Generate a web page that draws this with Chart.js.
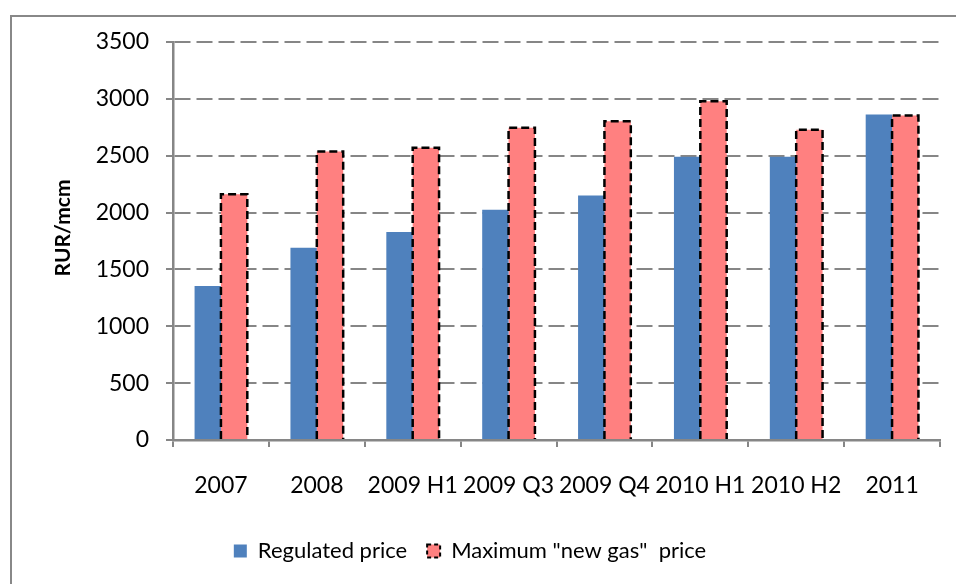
<!DOCTYPE html>
<html>
<head>
<meta charset="utf-8">
<script src="https://cdn.jsdelivr.net/npm/chart.js@4"></script>
<style>
  html, body { margin: 0; padding: 0; background: #fff; overflow: hidden; }
  #frame { position: absolute; left: 10px; top: 15px; width: 980px; height: 620px; border: 2px solid #888; box-sizing: border-box; }
  #wrap { position: absolute; left: 0; top: 0; width: 956px; height: 584px; }
</style>
</head>
<body>
<div id="frame"></div>
<div id="wrap"><canvas id="chart"></canvas></div>
<script>
// Regulated vs maximum "new gas" price, RUR/mcm

var periods   = ['2007', '2008', '2009 H1', '2009 Q3', '2009 Q4', '2010 H1', '2010 H2', '2011'];
var regulated = [1355, 1690, 1830, 2025, 2150, 2490, 2490, 2862];
var newGasMax = [2162, 2537, 2570, 2747, 2803, 2980, 2729, 2853];

var BLUE = '#4F81BD';
var RED  = '#FF8080';
var AXIS = '#868686';
var FONT = 'Lato, "Open Sans", sans-serif';

// bars in Chart.js have no dashed border, so outline the red ones here
var dashedOutline = {
  id: 'dashedOutline',
  afterDatasetsDraw: function(chart) {
    var meta = chart.getDatasetMeta(1);
    var ctx = chart.ctx;
    ctx.save();
    ctx.strokeStyle = '#000';
    ctx.lineWidth = 2.5;
    ctx.setLineDash([8, 4]);
    meta.data.forEach(function(bar) {
      var l = bar.x - bar.width / 2, r = bar.x + bar.width / 2;
      ctx.beginPath();
      ctx.moveTo(l, bar.base);
      ctx.lineTo(l, bar.y);
      ctx.lineTo(r, bar.y);
      ctx.lineTo(r, bar.base);
      ctx.stroke();
    });
    ctx.restore();
  }
};

// axis title, a bit above the centre of the plot like the original
var yTitle = {
  id: 'yTitle',
  afterDraw: function(chart) {
    var ctx = chart.ctx;
    var area = chart.chartArea;
    ctx.save();
    ctx.translate(63, (area.top + area.bottom) / 2 - 13);
    ctx.rotate(-Math.PI / 2);
    ctx.font = 'bold 21px ' + FONT;
    ctx.fillStyle = '#000';
    ctx.textAlign = 'center';
    ctx.textBaseline = 'middle';
    ctx.fillText('RUR/mcm', 0, 0);
    ctx.restore();
  }
};

new Chart(document.getElementById('chart').getContext('2d'), {
  type: 'bar',
  data: {
    labels: periods,
    datasets: [
      { label: 'Regulated price', data: regulated, backgroundColor: BLUE, borderWidth: 0 },
      { label: 'Maximum "new gas"  price', data: newGasMax, backgroundColor: RED, borderWidth: 0 }
    ]
  },
  options: {
    responsive: true,
    maintainAspectRatio: false,
    animation: false,
    datasets: { bar: { categoryPercentage: 0.55, barPercentage: 1.0 } },
    layout: { padding: { top: 42, right: 16, bottom: 12, left: 0 } },
    plugins: {
      tooltip: { enabled: false },
      legend: {
        position: 'bottom',
        labels: {
          color: '#000',
          font: { family: FONT, size: 22 },
          boxWidth: 13,
          boxHeight: 13,
          padding: 20,
          generateLabels: function(chart) {
            return chart.data.datasets.map(function(ds, i) {
              return {
                text: ds.label,
                fillStyle: ds.backgroundColor,
                strokeStyle: i === 1 ? '#000' : ds.backgroundColor,
                lineWidth: i === 1 ? 2 : 0,
                lineDash: i === 1 ? [4, 3] : [],
                datasetIndex: i,
                hidden: false
              };
            });
          }
        }
      }
    },
    scales: {
      x: {
        offset: true,
        grid: { offset: true, drawOnChartArea: false, drawTicks: true, tickLength: 7, color: AXIS, lineWidth: 2 },
        border: { color: AXIS, width: 2.5 },
        ticks: { color: '#000', font: { family: FONT, size: 23 }, padding: 25, maxRotation: 0, autoSkip: false },
        afterFit: function(scale) { scale.height = 80; }
      },
      y: {
        min: 0,
        max: 3500,
        ticks: {
          stepSize: 500, color: '#000', font: { family: FONT, size: 23 }, padding: 17,
          callback: function(v) { return String(v); }
        },
        grid: { color: AXIS, lineWidth: 2, tickLength: 7, tickColor: AXIS },
        border: { color: AXIS, width: 2.5, dash: [16, 6] },
        afterFit: function(scale) { scale.width = 173; }
      }
    }
  },
  plugins: [dashedOutline, yTitle]
});
</script>
</body>
</html>
